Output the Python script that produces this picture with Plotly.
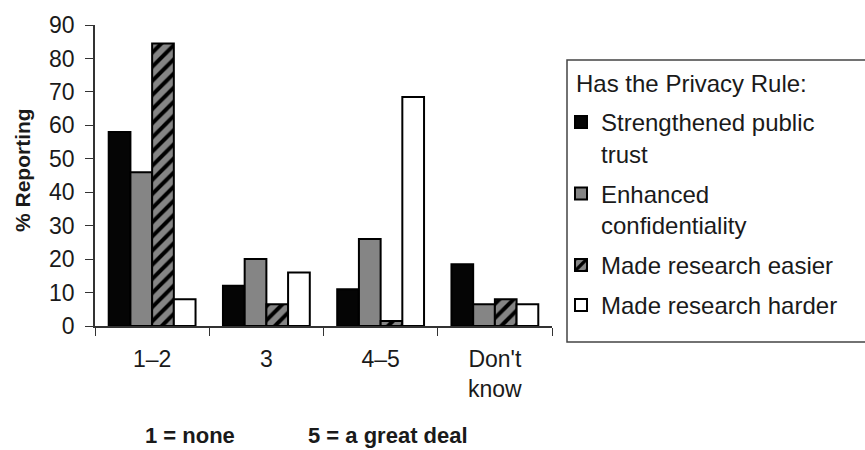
import plotly.graph_objects as go

# Survey responses by rating category
categories = ["1–2", "3", "4–5", "Don't<br>know"]
strengthened_trust = [58, 12, 11, 18.5]
enhanced_confidentiality = [46, 20, 26, 6.5]
research_easier = [84.5, 6.5, 1.5, 8]
research_harder = [8, 16, 68.5, 6.5]

series_names = [
    "Strengthened public<br>trust",
    "Enhanced<br>confidentiality",
    "Made research easier",
    "Made research harder",
]

FONT = "Liberation Sans, Arial, Helvetica, sans-serif"
TXT = "#1a1a1a"

# plot area in pixels: x 95..552, y 25..326
L, R, T, B = 95, 552, 25, 326
W, H = R - L, B - T


def px(x):
    return (x - L) / W


def py(y):
    return (B - y) / H


fig = go.Figure()

fig.add_trace(go.Bar(
    x=categories, y=strengthened_trust, name=series_names[0],
    marker=dict(color="#050505", line=dict(color="#000000", width=2)),
    legendgroup="a",
))
fig.add_trace(go.Bar(
    x=categories, y=enhanced_confidentiality, name=series_names[1],
    marker=dict(color="#858585", line=dict(color="#000000", width=2)),
    legendgroup="b",
))
fig.add_trace(go.Bar(
    x=categories, y=research_easier, name=series_names[2],
    marker=dict(
        color="#858585",
        line=dict(color="#000000", width=2),
        pattern=dict(shape="/", fgcolor="#000000", bgcolor="#858585",
                     size=10, solidity=0.4, fillmode="replace"),
    ),
    legendgroup="c",
))
fig.add_trace(go.Bar(
    x=categories, y=research_harder, name=series_names[3],
    marker=dict(color="#ffffff", line=dict(color="#000000", width=2)),
    legendgroup="d",
))

fig.update_layout(
    width=865, height=450,
    margin=dict(l=L, r=865 - R, t=T, b=450 - B),
    paper_bgcolor="white", plot_bgcolor="white",
    barmode="group", bargap=0.24, bargroupgap=0,
    font=dict(family=FONT, size=22, color=TXT),
    showlegend=True,
    legend=dict(
        x=px(561), xanchor="left", y=py(100), yanchor="top",
        traceorder="grouped", tracegroupgap=6, valign="top",
        font=dict(size=24, family=FONT, color=TXT),
        bgcolor="rgba(0,0,0,0)", borderwidth=0,
    ),
    xaxis=dict(
        type="category", showgrid=False, zeroline=False,
        showline=True, linecolor="#333333", linewidth=1.5,
        ticks="outside", tickson="boundaries", ticklen=8, tickcolor="#333333",
        ticklabelstandoff=12,
        tickfont=dict(size=23, family=FONT, color=TXT),
    ),
    yaxis=dict(
        range=[0, 90], dtick=10, showgrid=False, zeroline=False,
        showline=True, linecolor="#333333", linewidth=1.5,
        ticks="outside", ticklen=8, tickcolor="#333333",
        ticklabelstandoff=6,
        tickfont=dict(size=23, family=FONT, color=TXT),
    ),
)

# Legend frame and heading
fig.add_shape(type="rect", xref="paper", yref="paper",
              x0=px(567), x1=px(866), y0=py(342), y1=py(60),
              line=dict(color="#444444", width=1.5), fillcolor="rgba(0,0,0,0)",
              layer="below")
fig.add_annotation(text="Has the Privacy Rule:", xref="paper", yref="paper",
                   x=px(574), y=py(83), xanchor="left", yanchor="middle",
                   showarrow=False, font=dict(size=24, family=FONT, color=TXT))

# Axis title and scale note
fig.add_annotation(text="<b>% Reporting</b>", xref="paper", yref="paper",
                   x=px(22), y=py(170), xanchor="center", yanchor="middle",
                   textangle=-90, showarrow=False,
                   font=dict(size=21, family=FONT, color=TXT))
fig.add_annotation(text="<b>1 = none</b>", xref="paper", yref="paper",
                   x=px(190), y=py(435), xanchor="center", yanchor="middle",
                   showarrow=False, font=dict(size=22, family=FONT, color=TXT))
fig.add_annotation(text="<b>5 = a great deal</b>", xref="paper", yref="paper",
                   x=px(388), y=py(435), xanchor="center", yanchor="middle",
                   showarrow=False, font=dict(size=22, family=FONT, color=TXT))

fig.write_html("out.html")
